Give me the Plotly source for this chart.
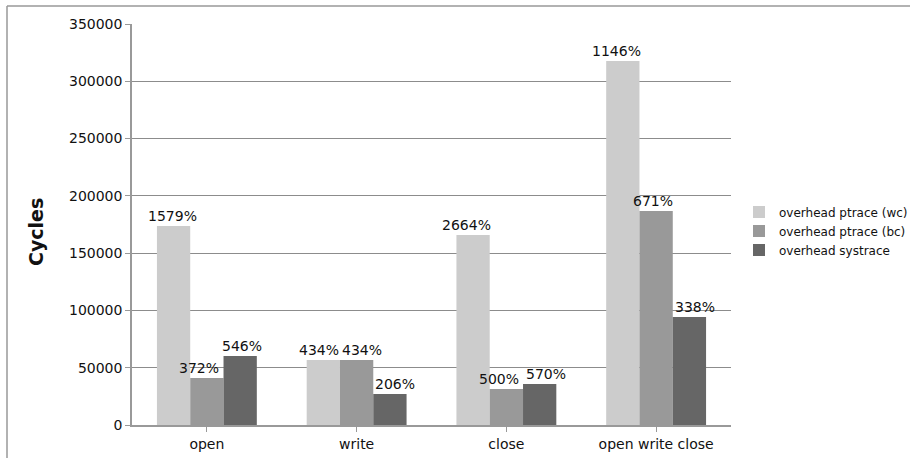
import plotly.graph_objects as go

categories = ["open", "write", "close", "open write close"]

series_names = ["overhead ptrace (wc)", "overhead ptrace (bc)", "overhead systrace"]
ptrace_wc = [173700, 56700, 165800, 317700]
ptrace_bc = [41000, 56700, 31400, 186800]
systrace = [60200, 27000, 35800, 94300]

ptrace_wc_pct = ["1579%", "434%", "2664%", "1146%"]
ptrace_bc_pct = ["372%", "434%", "500%", "671%"]
systrace_pct = ["546%", "206%", "570%", "338%"]

colors = ["#cccccc", "#999999", "#666666"]
font = "DejaVu Sans"

# plot-area geometry in pixels
W, H = 910, 458
L, R, T, B = 132, 179, 24, 33
plot_w = W - L - R
plot_h = H - T - B
bargap = 0.333
bar_px = plot_w / len(categories) * (1 - bargap) / 3


def px_x(px):
    return (px - L) / plot_w


def px_y(px):
    return (H - B - px) / plot_h


# small horizontal nudges that keep neighbouring value labels apart
label_nudge = [
    [-1, -8, 2],
    [-4, 5, 5],
    [-7, -7, 6],
    [-6, -3, 6],
]

values = [ptrace_wc, ptrace_bc, systrace]
labels = [ptrace_wc_pct, ptrace_bc_pct, systrace_pct]

fig = go.Figure()
for name, vals, col in zip(series_names, values, colors):
    fig.add_trace(go.Bar(
        name=name, x=categories, y=vals,
        marker=dict(color=col, line=dict(width=0)),
    ))

annotations = []
for j, (vals, txts) in enumerate(zip(values, labels)):
    for i, (cat, v, t) in enumerate(zip(categories, vals, txts)):
        annotations.append(dict(
            x=cat, y=v, xref="x", yref="y", text=t, showarrow=False,
            xanchor="center", yanchor="bottom",
            xshift=(j - 1) * bar_px + label_nudge[i][j], yshift=0,
            font=dict(family=font, size=14, color="#111111"),
        ))

annotations.append(dict(
    x=px_x(36), y=px_y(232), xref="paper", yref="paper",
    text="<b>Cycles</b>", textangle=-90, showarrow=False,
    xanchor="center", yanchor="middle",
    font=dict(family=font, size=19, color="#111111"),
))

fig.update_layout(
    width=W, height=H,
    margin=dict(l=L, r=R, t=T, b=B, autoexpand=False),
    paper_bgcolor="white", plot_bgcolor="white",
    barmode="group", bargap=bargap, bargroupgap=0,
    font=dict(family=font, size=14, color="#111111"),
    showlegend=True,
    legend=dict(x=px_x(739), y=px_y(231),
                xanchor="left", yanchor="middle",
                font=dict(family=font, size=12, color="#111111"),
                itemwidth=30, tracegroupgap=0),
    xaxis=dict(showline=True, linecolor="#999999", linewidth=1.5,
               ticks="outside", ticklen=5, tickcolor="#999999",
               tickfont=dict(size=14)),
    yaxis=dict(range=[0, 350000], dtick=50000, tickformat="d",
               showgrid=True, gridcolor="#8c8c8c", gridwidth=1,
               showline=True, linecolor="#999999", linewidth=1.5,
               ticks="outside", ticklen=5, tickcolor="#999999",
               zeroline=False, tickfont=dict(size=14)),
    annotations=annotations,
)

# outer frame of the chart: top and left edges
frame = dict(color="#999999", width=1.5)
fig.add_shape(type="line", xref="paper", yref="paper",
              x0=px_x(7), x1=px_x(W), y0=px_y(6), y1=px_y(6), line=frame)
fig.add_shape(type="line", xref="paper", yref="paper",
              x0=px_x(7), x1=px_x(7), y0=px_y(6), y1=px_y(H), line=frame)

fig.write_html("out.html")
